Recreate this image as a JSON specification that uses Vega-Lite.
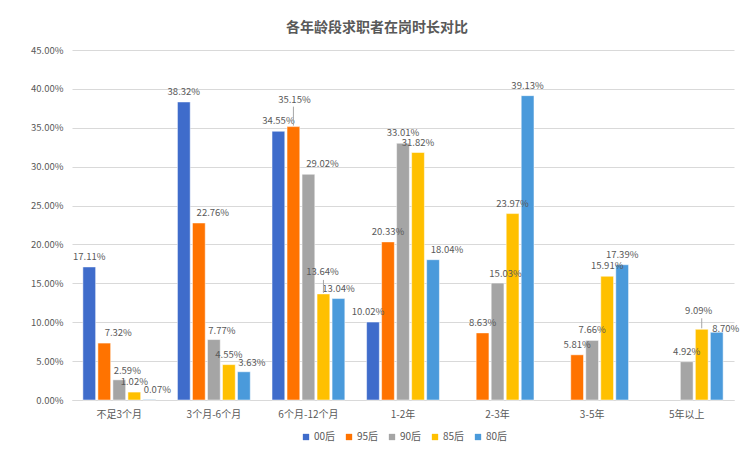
{
  "$schema": "https://vega.github.io/schema/vega-lite/v6.json",
  "autosize": "none",
  "width": 662,
  "height": 350,
  "padding": {"left": 72, "top": 50, "right": 19, "bottom": 52},
  "background": "white",
  "title": {
    "text": "各年龄段求职者在岗时长对比",
    "fontSize": 14,
    "fontWeight": "bold",
    "color": "#595959",
    "font": "Noto Sans CJK SC",
    "anchor": "middle",
    "dx": -26,
    "offset": 10
  },
  "config": {
    "view": {"stroke": null},
    "font": "Noto Sans CJK SC"
  },
  "data": {
    "values": [
      {"cat": "不足3个月", "gen": "00后", "v": 0.1711},
      {"cat": "不足3个月", "gen": "95后", "v": 0.0732},
      {"cat": "不足3个月", "gen": "90后", "v": 0.0259},
      {"cat": "不足3个月", "gen": "85后", "v": 0.0102},
      {"cat": "不足3个月", "gen": "80后", "v": 0.0007},
      {"cat": "3个月-6个月", "gen": "00后", "v": 0.3832},
      {"cat": "3个月-6个月", "gen": "95后", "v": 0.2276},
      {"cat": "3个月-6个月", "gen": "90后", "v": 0.0777},
      {"cat": "3个月-6个月", "gen": "85后", "v": 0.0455},
      {"cat": "3个月-6个月", "gen": "80后", "v": 0.0363},
      {"cat": "6个月-12个月", "gen": "00后", "v": 0.3455},
      {"cat": "6个月-12个月", "gen": "95后", "v": 0.3515},
      {"cat": "6个月-12个月", "gen": "90后", "v": 0.2902},
      {"cat": "6个月-12个月", "gen": "85后", "v": 0.1364},
      {"cat": "6个月-12个月", "gen": "80后", "v": 0.1304},
      {"cat": "1-2年", "gen": "00后", "v": 0.1002},
      {"cat": "1-2年", "gen": "95后", "v": 0.2033},
      {"cat": "1-2年", "gen": "90后", "v": 0.3301},
      {"cat": "1-2年", "gen": "85后", "v": 0.3182},
      {"cat": "1-2年", "gen": "80后", "v": 0.1804},
      {"cat": "2-3年", "gen": "95后", "v": 0.0863},
      {"cat": "2-3年", "gen": "90后", "v": 0.1503},
      {"cat": "2-3年", "gen": "85后", "v": 0.2397},
      {"cat": "2-3年", "gen": "80后", "v": 0.3913},
      {"cat": "3-5年", "gen": "95后", "v": 0.0581},
      {"cat": "3-5年", "gen": "90后", "v": 0.0766},
      {"cat": "3-5年", "gen": "85后", "v": 0.1591},
      {"cat": "3-5年", "gen": "80后", "v": 0.1739},
      {"cat": "5年以上", "gen": "90后", "v": 0.0492},
      {"cat": "5年以上", "gen": "85后", "v": 0.0909},
      {"cat": "5年以上", "gen": "80后", "v": 0.087}
    ]
  },
  "encoding": {
    "x": {
      "field": "cat",
      "type": "nominal",
      "sort": ["不足3个月", "3个月-6个月", "6个月-12个月", "1-2年", "2-3年", "3-5年", "5年以上"],
      "scale": {"paddingInner": 0.23, "paddingOuter": 0.115},
      "axis": {
        "title": null,
        "labelAngle": 0,
        "labelFontSize": 10,
        "labelColor": "#595959",
        "labelPadding": 9,
        "ticks": false,
        "domainColor": "#d9d9d9",
        "domainWidth": 1
      }
    },
    "xOffset": {
      "field": "gen",
      "type": "nominal",
      "scale": {"domain": ["00后", "95后", "90后", "85后", "80后"], "paddingInner": 0.15, "paddingOuter": 0}
    },
    "y": {
      "field": "v",
      "type": "quantitative",
      "scale": {"domain": [0, 0.45], "nice": false},
      "axis": {
        "title": null,
        "format": ".2%",
        "values": [0, 0.05, 0.1, 0.15, 0.2, 0.25, 0.3, 0.35, 0.4, 0.45],
        "labelFontSize": 9.5,
        "labelColor": "#595959",
        "labelPadding": 9,
        "ticks": false,
        "domain": false,
        "gridColor": "#d9d9d9",
        "gridWidth": 1
      }
    }
  },
  "layer": [
    {
      "mark": {"type": "bar", "stroke": "white", "strokeWidth": 0.5},
      "encoding": {
        "color": {
          "field": "gen",
          "type": "nominal",
          "scale": {
            "domain": ["00后", "95后", "90后", "85后", "80后"],
            "range": ["#3F6CCB", "#FF7300", "#A5A5A5", "#FFC000", "#4A9ADB"]
          },
          "legend": {
            "title": null,
            "orient": "none",
            "direction": "horizontal",
            "legendX": 229,
            "legendY": 382,
            "symbolType": "square",
            "symbolSize": 40,
            "symbolStrokeWidth": 0,
            "labelFontSize": 10,
            "labelColor": "#595959",
            "labelOffset": 3,
            "columnPadding": 8
          }
        }
      }
    },
    {
      "transform": [{"filter": "indexof(['不足3个月|95后','3个月-6个月|95后','6个月-12个月|90后','1-2年|80后','不足3个月|90后','不足3个月|80后','3个月-6个月|90后','3个月-6个月|80后','2-3年|90后','6个月-12个月|95后','6个月-12个月|85后','5年以上|85后','5年以上|80后','1-2年|00后'], datum.cat + '|' + datum.gen) < 0"}],
      "mark": {"type": "text", "baseline": "bottom", "dy": -5, "fontSize": 9.5, "color": "#595959"},
      "encoding": {"text": {"field": "v", "type": "quantitative", "format": ".2%"}}
    },
    {
      "transform": [{"filter": "indexof(['不足3个月|95后','3个月-6个月|95后','6个月-12个月|90后','1-2年|80后'], datum.cat + '|' + datum.gen) >= 0"}],
      "mark": {"type": "text", "baseline": "bottom", "dy": -5, "dx": 14, "fontSize": 9.5, "color": "#595959"},
      "encoding": {"text": {"field": "v", "type": "quantitative", "format": ".2%"}}
    },
    {
      "transform": [{"filter": "indexof(['不足3个月|90后','不足3个月|80后','3个月-6个月|90后','3个月-6个月|80后','2-3年|90后'], datum.cat + '|' + datum.gen) >= 0"}],
      "mark": {"type": "text", "baseline": "bottom", "dy": -4, "dx": 8, "fontSize": 9.5, "color": "#595959"},
      "encoding": {"text": {"field": "v", "type": "quantitative", "format": ".2%"}}
    },
    {
      "transform": [{"filter": "datum.cat == '1-2年' && datum.gen == '00后'"}],
      "mark": {"type": "text", "baseline": "bottom", "dy": -5, "dx": -5, "fontSize": 9.5, "color": "#595959"},
      "encoding": {"text": {"field": "v", "type": "quantitative", "format": ".2%"}}
    },
    {
      "transform": [{"filter": "datum.cat == '5年以上' && datum.gen == '80后'"}],
      "mark": {"type": "text", "baseline": "bottom", "dy": 2, "dx": 9, "fontSize": 9.5, "color": "#595959"},
      "encoding": {"text": {"field": "v", "type": "quantitative", "format": ".2%"}}
    },
    {
      "transform": [{"filter": "datum.cat == '6个月-12个月' && datum.gen == '95后'"}],
      "mark": {"type": "text", "baseline": "bottom", "dy": -22, "dx": 1, "fontSize": 9.5, "color": "#595959"},
      "encoding": {"text": {"field": "v", "type": "quantitative", "format": ".2%"}}
    },
    {
      "transform": [{"filter": "datum.cat == '6个月-12个月' && datum.gen == '95后'"}],
      "mark": {"type": "rule", "color": "#a6a6a6", "strokeWidth": 1, "yOffset": -1, "y2Offset": -20},
      "encoding": {"y2": {"field": "v"}}
    },
    {
      "transform": [{"filter": "datum.cat == '6个月-12个月' && datum.gen == '85后'"}],
      "mark": {"type": "text", "baseline": "bottom", "dy": -17, "dx": -1, "fontSize": 9.5, "color": "#595959"},
      "encoding": {"text": {"field": "v", "type": "quantitative", "format": ".2%"}}
    },
    {
      "transform": [{"filter": "datum.cat == '6个月-12个月' && datum.gen == '85后'"}],
      "mark": {"type": "rule", "color": "#a6a6a6", "strokeWidth": 1, "yOffset": -1, "y2Offset": -14},
      "encoding": {"y2": {"field": "v"}}
    },
    {
      "transform": [{"filter": "datum.cat == '5年以上' && datum.gen == '85后'"}],
      "mark": {"type": "text", "baseline": "bottom", "dy": -13, "dx": -3, "fontSize": 9.5, "color": "#595959"},
      "encoding": {"text": {"field": "v", "type": "quantitative", "format": ".2%"}}
    },
    {
      "transform": [{"filter": "datum.cat == '5年以上' && datum.gen == '85后'"}],
      "mark": {"type": "rule", "color": "#a6a6a6", "strokeWidth": 1, "yOffset": -1, "y2Offset": -11},
      "encoding": {"y2": {"field": "v"}}
    }
  ]
}
